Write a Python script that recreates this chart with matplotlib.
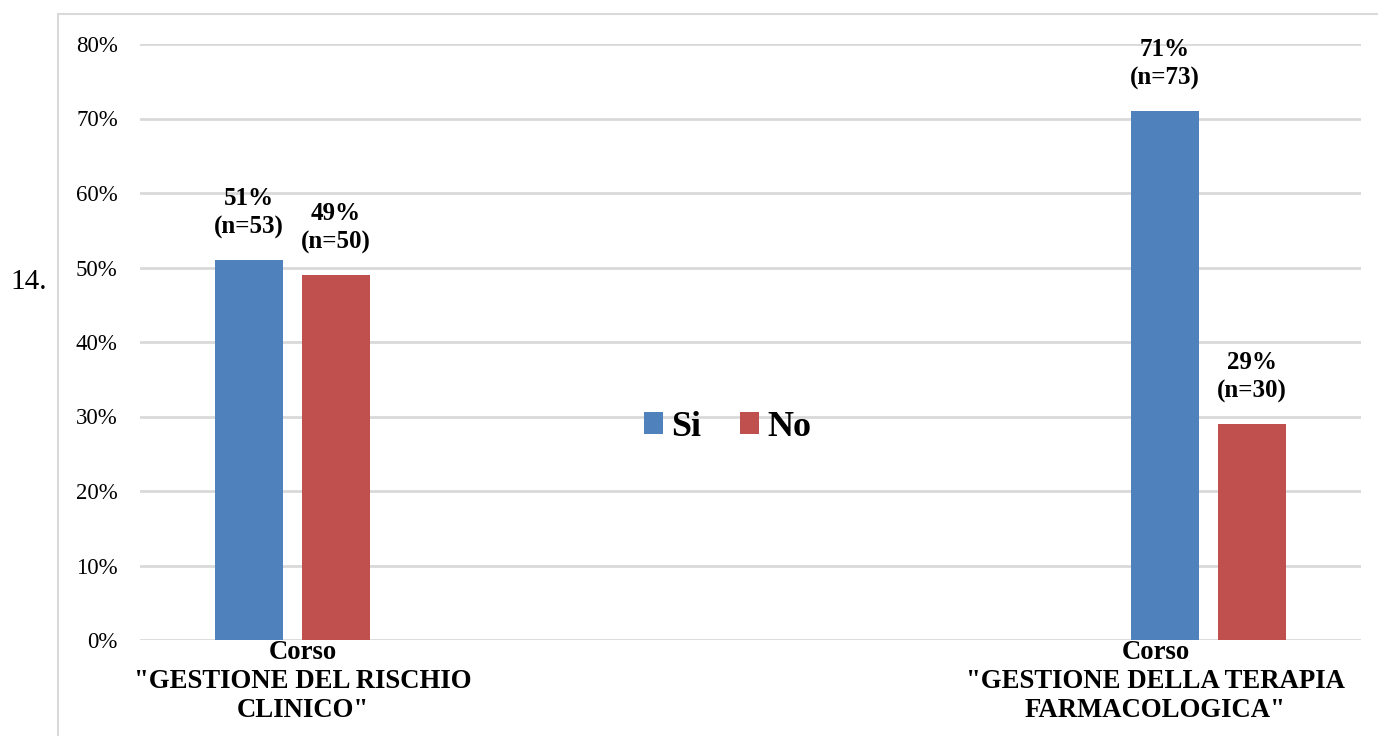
import matplotlib.pyplot as plt
import numpy as np
from matplotlib.patches import Rectangle
from matplotlib.transforms import ScaledTranslation

plt.rcParams['font.family'] = ['Liberation Serif', 'DejaVu Serif']

# dati del grafico
corsi = ['Corso\n"GESTIONE DEL RISCHIO\nCLINICO"',
         'Corso\n"GESTIONE DELLA TERAPIA\nFARMACOLOGICA"']
serie = ['Si', 'No']
perc_si = [51, 71]
perc_no = [49, 29]
n_si = [53, 73]
n_no = [50, 30]
colori = ['#4F81BD', '#C0504D']

fig = plt.figure(figsize=(13.78, 7.36), dpi=100)
ax = fig.add_axes([140 / 1378, 1 - 640 / 736, 1221 / 1378, 596 / 736])

# cornice grigia attorno al grafico
fig.patches.append(Rectangle((58 / 1378, -0.2), 2, 1.2 - 14 / 736,
                             transform=fig.transFigure, fill=False,
                             edgecolor='#d9d9d9', linewidth=1.5, zorder=0))

x = np.arange(len(corsi))
larg = 0.0742
off = 0.0475
for i, (vals, nn) in enumerate([(perc_si, n_si), (perc_no, n_no)]):
    pos = x + (-off if i == 0 else off)
    ax.bar(pos, vals, width=larg, color=colori[i], label=serie[i], zorder=3)
    for xp, v, n in zip(pos, vals, nn):
        ax.annotate(f'{v}%\n(n={n})', (xp, v), xytext=(0, 15),
                    textcoords='offset points', ha='center', va='bottom',
                    fontsize=18, fontweight='bold', linespacing=1.3)

ax.set_xlim(-0.1665, 1.1665)
ax.set_ylim(0, 80)
ax.set_yticks(range(0, 81, 10))
ax.set_yticklabels([f'{v}%' for v in range(0, 81, 10)], fontsize=16.5)
ax.set_xticks(x)
ax.set_xticklabels(corsi, fontsize=19.3, fontweight='bold', linespacing=1.22)
ax.tick_params(axis='both', length=0)
ax.tick_params(axis='y', pad=16)
ax.tick_params(axis='x', pad=0)

# spostamento delle etichette di categoria
for lab, dx in zip(ax.get_xticklabels(), [10, -53]):
    lab.set_transform(lab.get_transform() + ScaledTranslation(dx / 100, 0, fig.dpi_scale_trans))

ax.grid(axis='y', color='#d9d9d9', linewidth=2, zorder=0)
for s in ax.spines.values():
    s.set_visible(False)

ax.legend(loc='center', bbox_to_anchor=(0.481, 0.357), frameon=False,
          ncol=2, prop={'size': 26, 'weight': 'bold'},
          handlelength=0.53, handleheight=0.53, handletextpad=0.22,
          columnspacing=1.08)

fig.text(10 / 1378, 1 - 282 / 736, '14.', fontsize=21, va='center', ha='left')

fig.savefig('out.png', dpi=100)
